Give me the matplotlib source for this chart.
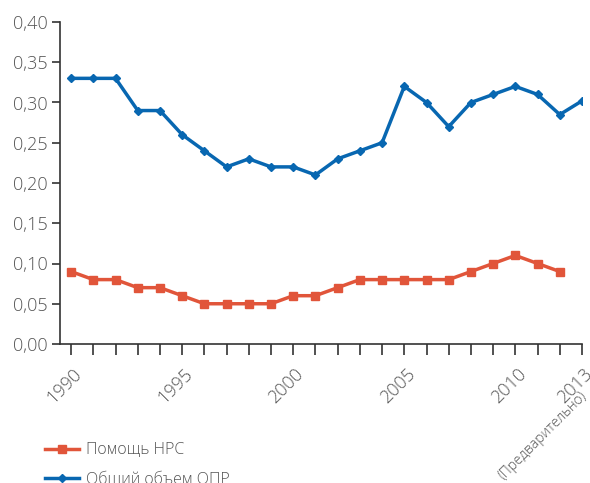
import matplotlib
matplotlib.use("Agg")
import matplotlib.pyplot as plt
from matplotlib.ticker import FuncFormatter, MultipleLocator

plt.rcParams['font.family'] = ['Open Sans', 'DejaVu Sans']
plt.rcParams['font.weight'] = 'light'

years = list(range(1990, 2014))
ldc_years = list(range(1990, 2013))
ldc_aid = [0.09, 0.08, 0.08, 0.07, 0.07, 0.06, 0.05, 0.05, 0.05, 0.05, 0.06, 0.06,
           0.07, 0.08, 0.08, 0.08, 0.08, 0.08, 0.09, 0.10, 0.11, 0.10, 0.09]
total_oda = [0.33, 0.33, 0.33, 0.29, 0.29, 0.26, 0.24, 0.22, 0.23, 0.22, 0.22, 0.21,
             0.23, 0.24, 0.25, 0.32, 0.30, 0.27, 0.30, 0.31, 0.32, 0.31, 0.285, 0.302]
label_ldc = "Помощь НРС"
label_oda = "Общий объем ОПР"
tick_years = [1990, 1995, 2000, 2005, 2010, 2013]
tick_texts = ["1990", "1995", "2000", "2005", "2010", "2013"]
prelim_text = "(Предварительно)"

blue = "#0867b1"
red = "#e1553a"
grey = "#555555"

fig = plt.figure(figsize=(5.9, 4.83), dpi=100)
ax = fig.add_axes([60/590, 139/483, 522/590, 322/483])

l1, = ax.plot(ldc_years, ldc_aid, color=red, lw=2.5, marker='s', ms=5.5, label=label_ldc)
l2, = ax.plot(years, total_oda, color=blue, lw=2.5, marker='D', ms=4.5, label=label_oda)

ax.set_xlim(1989.5, 2013)
ax.set_ylim(0, 0.4)
ax.yaxis.set_major_locator(MultipleLocator(0.05))
ax.yaxis.set_major_formatter(FuncFormatter(lambda v, p: f"{v:.2f}".replace('.', ',')))
ax.set_xticks(years)
ax.set_xticklabels([''] * len(years))

for s in ['top', 'right']:
    ax.spines[s].set_visible(False)
for s in ['left', 'bottom']:
    ax.spines[s].set_color('#333333')
    ax.spines[s].set_linewidth(1.2)
ax.tick_params(axis='x', length=8, width=1.2, color='#333333', direction='out')
ax.tick_params(axis='y', length=6, width=1.2, color='#333333', labelsize=13, labelcolor=grey, pad=3)

for y, t in zip(tick_years, tick_texts):
    ax.annotate(t, xy=(y, 0), xycoords=('data', 'axes fraction'), xytext=(1, -15),
                textcoords='offset points', rotation=45, rotation_mode='anchor',
                ha='right', va='top', fontsize=13, color=grey)
ax.annotate(prelim_text, xy=(2013, 0), xycoords=('data', 'axes fraction'), xytext=(-2, -32),
            textcoords='offset points', rotation=45, rotation_mode='anchor',
            ha='right', va='top', fontsize=10, color=grey)

fig.legend(handles=[l1, l2], loc='upper left', bbox_to_anchor=(31/590, 1 - 428/483),
           frameon=False, fontsize=11.5, labelcolor=grey, handlelength=2.1,
           labelspacing=0.82, handletextpad=0.45)

fig.savefig("out.png", dpi=100)
